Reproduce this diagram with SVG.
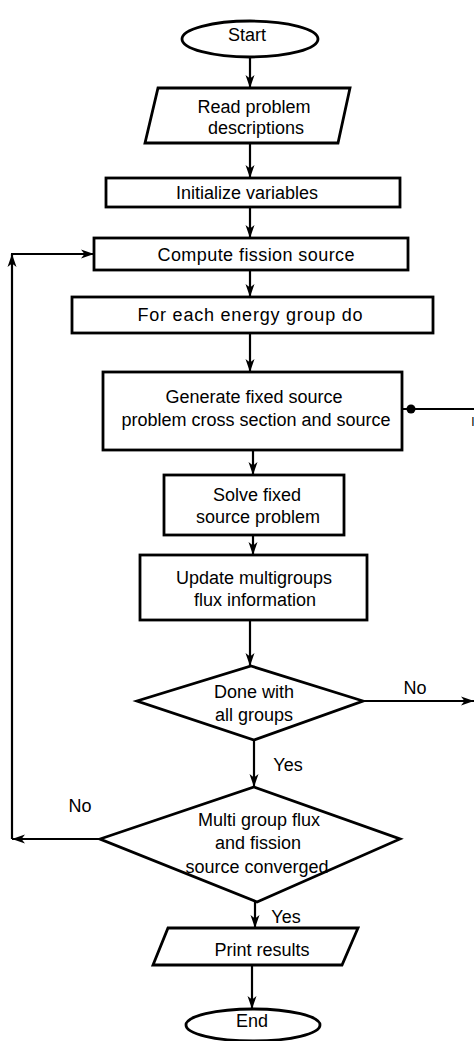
<svg xmlns="http://www.w3.org/2000/svg" width="474" height="1041" viewBox="0 0 474 1041">
<style>
.s{fill:#fff;stroke:#000;stroke-width:2.8}
.t{font-family:"Liberation Sans",Arial,sans-serif;font-size:18px;fill:#000;text-anchor:middle}
.c{fill:none;stroke:#000;stroke-width:2.2}
</style>
<defs>
<marker id="ah" markerWidth="14" markerHeight="10" refX="13" refY="5" orient="auto" markerUnits="userSpaceOnUse">
<path d="M0,0.5 L13,5 L0,9.5 L3.5,5 Z" fill="#000"/>
</marker>
</defs>
<rect width="474" height="1041" fill="#fff"/>
<g id="connectors">
<line class="c" x1="250" y1="57" x2="250" y2="88" marker-end="url(#ah)"/>
<line class="c" x1="250" y1="143" x2="250" y2="178" marker-end="url(#ah)"/>
<line class="c" x1="250" y1="207" x2="250" y2="238" marker-end="url(#ah)"/>
<line class="c" x1="250" y1="270" x2="250" y2="297" marker-end="url(#ah)"/>
<line class="c" x1="250" y1="333" x2="250" y2="372" marker-end="url(#ah)"/>
<line class="c" x1="253" y1="450" x2="253" y2="475" marker-end="url(#ah)"/>
<line class="c" x1="253" y1="535" x2="253" y2="555" marker-end="url(#ah)"/>
<line class="c" x1="250" y1="620" x2="250" y2="666" marker-end="url(#ah)"/>
<line class="c" x1="254" y1="740" x2="254" y2="787" marker-end="url(#ah)"/>
<line class="c" x1="255" y1="902" x2="255" y2="928" marker-end="url(#ah)"/>
<line class="c" x1="252" y1="965" x2="252" y2="1009" marker-end="url(#ah)"/>
<line class="c" x1="363" y1="701" x2="474" y2="701" marker-end="url(#ah)"/>
<line class="c" x1="474" y1="409" x2="402" y2="409"/>
<circle cx="411" cy="409" r="4.5" fill="#000"/>
<line class="c" x1="100" y1="839" x2="12" y2="839" marker-end="url(#ah)"/>
<line class="c" x1="12" y1="839" x2="12" y2="254" marker-end="url(#ah)"/>
<line class="c" x1="11" y1="254" x2="94" y2="254" marker-end="url(#ah)"/>
</g>
<g id="start">
<ellipse class="s" cx="250" cy="39" rx="68" ry="18"/>
<text class="t" x="247" y="41">Start</text>
</g>
<g id="read">
<polygon class="s" points="158,88 350,88 338,143 145,143"/>
<text class="t" x="254" y="113">Read problem</text>
<text class="t" x="256" y="134">descriptions</text>
</g>
<g id="init">
<rect class="s" x="106" y="178" width="294" height="29"/>
<text class="t" x="247" y="199">Initialize variables</text>
</g>
<g id="compute">
<rect class="s" x="94" y="238" width="314" height="32"/>
<text class="t" x="256" y="261" textLength="197" lengthAdjust="spacing">Compute fission source</text>
</g>
<g id="foreach">
<rect class="s" x="72" y="297" width="361" height="36"/>
<text class="t" x="250" y="321" textLength="225" lengthAdjust="spacing">For each energy group do</text>
</g>
<g id="generate">
<rect class="s" x="103" y="372" width="299" height="78"/>
<text class="t" x="254" y="403">Generate fixed source</text>
<text class="t" x="256" y="426">problem cross section and source</text>
</g>
<g id="solve">
<rect class="s" x="164" y="475" width="180" height="60"/>
<text class="t" x="257" y="501">Solve fixed</text>
<text class="t" x="258" y="523">source problem</text>
</g>
<g id="update">
<rect class="s" x="140" y="555" width="227" height="65"/>
<text class="t" x="254" y="584">Update multigroups</text>
<text class="t" x="255" y="606">flux information</text>
</g>
<g id="done">
<polygon class="s" points="251,666 363,701 254,740 137,701"/>
<text class="t" x="254" y="698">Done with</text>
<text class="t" x="254" y="721">all groups</text>
</g>
<g id="converged">
<polygon class="s" points="254,787 400,839 257,902 100,839"/>
<text class="t" x="259" y="826">Multi group flux</text>
<text class="t" x="258" y="849">and fission</text>
<text class="t" x="257" y="873">source converged</text>
</g>
<g id="print">
<polygon class="s" points="168,928 358,928 342,965 153,965"/>
<text class="t" x="262" y="956">Print results</text>
</g>
<g id="end">
<ellipse class="s" cx="253" cy="1025" rx="67" ry="16"/>
<text class="t" x="252" y="1027">End</text>
</g>
<g id="labels">
<text class="t" x="415" y="694">No</text>
<text class="t" x="288" y="771">Yes</text>
<text class="t" x="80" y="812">No</text>
<text class="t" x="286" y="923">Yes</text>
<text class="t" x="473" y="426" style="font-size:12px">I</text>
</g>
</svg>
